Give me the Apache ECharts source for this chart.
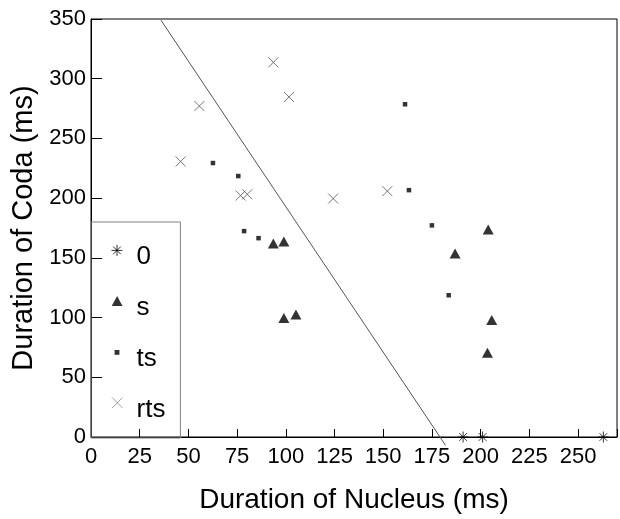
<!DOCTYPE html>
<html>
<head>
<meta charset="utf-8">
<script src="https://cdn.jsdelivr.net/npm/echarts@6/dist/echarts.min.js"></script>
<style>
html,body{margin:0;padding:0;background:#fff;}
#c{width:620px;height:519px;}
</style>
</head>
<body>
<div id="c"></div>
<script>
// ---- data ----
var seriesNames = ['0', 's', 'ts', 'rts'];
var zeroX = [191, 201, 263];
var zeroY = [0, 0, 0];
var sX = [93.6, 99.0, 99.0, 105.2, 186.9, 203.9, 205.7, 203.5];
var sY = [162, 163.7, 99.7, 102.5, 153.6, 173.8, 98, 70.5];
var tsX = [62.6, 75.6, 78.6, 86.0, 161.2, 163.2, 175.0, 183.6];
var tsY = [229.4, 218.5, 172.4, 166.5, 278.6, 206.7, 177.2, 118.7];
var rtsX = [46, 55.6, 93.6, 101.6, 76.8, 80.2, 124.3, 152.1];
var rtsY = [230.7, 277.1, 313.7, 284.7, 202.2, 203.2, 199.7, 205.9];
var boundaryX = [35.9, 182];
var boundaryY = [349, -7];
var xTicks = [0, 25, 50, 75, 100, 125, 150, 175, 200, 225, 250];
var yTicks = [0, 50, 100, 150, 200, 250, 300, 350];

function pairs(xs, ys) { return xs.map(function (x, i) { return [x, ys[i]]; }); }

var ASTER = 'path://M5,0L5,10M0,5L10,5M1.5,1.5L8.5,8.5M8.5,1.5L1.5,8.5';
var CROSS = 'path://M0,0L10,10M10,0L0,10';
// legend icons: an invisible move-to point below each glyph lifts the glyph above the text centre
var L_ASTER = 'path://M0,22M5,0L5,10M0,5L10,5M1.5,1.5L8.5,8.5M8.5,1.5L1.5,8.5';
var L_TRI = 'path://M0,22M5,0.5L9.8,9.5L0.2,9.5Z';
var L_SQ = 'path://M0,0M10,22M2.8,2.8L7.2,2.8L7.2,7.2L2.8,7.2Z';
var L_CROSS = 'path://M0,22M0.5,0.5L9.5,9.5M9.5,0.5L0.5,9.5';
var FONT = 'Liberation Sans';

var chart = echarts.init(document.getElementById('c'), null, {renderer: 'canvas'});
chart.setOption({
  animation: false,
  backgroundColor: '#fff',
  grid: {left: 91, top: 19, width: 534, height: 419, show: true, borderColor: '#000', borderWidth: 1, backgroundColor: 'transparent'},
  xAxis: {
    type: 'value', min: 0, max: 270, interval: 25,
    name: 'Duration of Nucleus (ms)', nameLocation: 'middle', nameGap: 49,
    nameTextStyle: {fontFamily: FONT, fontSize: 28, color: '#000'},
    axisLine: {show: true, lineStyle: {color: '#000', width: 1}},
    axisTick: {show: true, inside: true, length: 8, lineStyle: {color: '#000'}},
    axisLabel: {margin: 9, fontFamily: FONT, fontSize: 22, color: '#000',
      formatter: function (v) { return xTicks.indexOf(v) >= 0 ? String(v) : ''; }},
    splitLine: {show: false}
  },
  yAxis: {
    type: 'value', min: 0, max: 350, interval: 50,
    name: 'Duration of Coda (ms)', nameLocation: 'middle', nameGap: 43,
    nameTextStyle: {fontFamily: FONT, fontSize: 29, color: '#000'},
    axisLine: {show: true, lineStyle: {color: '#000', width: 1}},
    axisTick: {show: true, inside: true, length: 11, lineStyle: {color: '#000'}},
    axisLabel: {margin: 5, fontFamily: FONT, fontSize: 22, color: '#000',
      formatter: function (v) { return yTicks.indexOf(v) >= 0 ? String(v) : ''; }},
    splitLine: {show: false}
  },
  legend: {
    orient: 'vertical', left: 91, top: 222,
    padding: [22, 15, 15, 20],
    itemWidth: 11, itemHeight: 26, itemGap: 25,
    borderColor: '#808080', borderWidth: 1, backgroundColor: 'transparent',
    selectedMode: false,
    textStyle: {fontFamily: FONT, fontSize: 26, color: '#000', padding: [0, 0, 0, 9]},
    data: [
      {name: seriesNames[0], icon: L_ASTER, itemStyle: {color: 'transparent', borderColor: '#000', borderWidth: 1}},
      {name: seriesNames[1], icon: L_TRI, itemStyle: {color: '#000', borderWidth: 0}},
      {name: seriesNames[2], icon: L_SQ, itemStyle: {color: '#000', borderWidth: 0}},
      {name: seriesNames[3], icon: L_CROSS, itemStyle: {color: 'transparent', borderColor: '#888', borderWidth: 1}}
    ]
  },
  series: [
    {name: 'boundary', type: 'line', data: pairs(boundaryX, boundaryY), symbol: 'none', clip: false,
      lineStyle: {color: '#555', width: 1}, z: 1, silent: true},
    {name: seriesNames[0], type: 'scatter', data: pairs(zeroX, zeroY), symbol: ASTER, symbolSize: 11, clip: false,
      itemStyle: {color: 'transparent', borderColor: '#000', borderWidth: 1}},
    {name: seriesNames[1], type: 'scatter', data: pairs(sX, sY), symbol: 'triangle', symbolSize: [11, 10],
      itemStyle: {color: '#000'}},
    {name: seriesNames[2], type: 'scatter', data: pairs(tsX, tsY), symbol: 'rect', symbolSize: 4.5,
      itemStyle: {color: '#000'}},
    {name: seriesNames[3], type: 'scatter', data: pairs(rtsX, rtsY), symbol: CROSS, symbolSize: 10,
      itemStyle: {color: 'transparent', borderColor: '#555', borderWidth: 1}}
  ]
});
</script>
</body>
</html>
